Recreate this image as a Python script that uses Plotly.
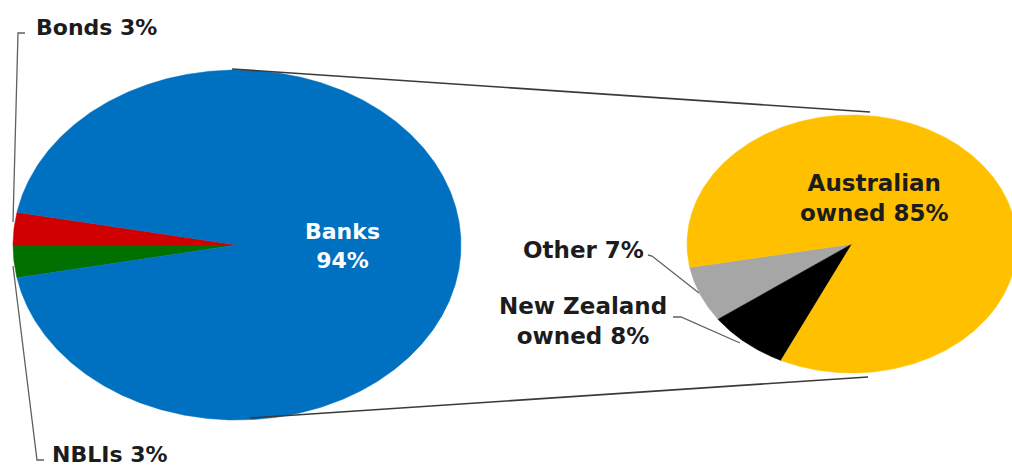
import numpy as np
import plotly.graph_objects as go

# Funding sources (left pie) and bank ownership breakdown (right pie)
funding_labels = ["NBLIs", "Bonds", "Banks"]
funding_shares = [3, 3, 94]
funding_colors = ["#007000", "#D00000", "#0070C0"]

owner_labels = ["Other", "New Zealand owned", "Australian owned"]
owner_shares = [7, 8, 85]
owner_colors = ["#A6A6A6", "#000000", "#FFC000"]

W, H = 1012, 469

# pie geometry in pixel space: centre, radii, start angle, direction
LEFT = dict(cx=237, cy=245, rx=224, ry=175,
            start=180 + funding_shares[0] * 3.6, direction=-1)
RIGHT = dict(cx=852, cy=244, rx=165, ry=129, start=190.5, direction=1)


def slice_paths(shares, geo):
    total = float(sum(shares))
    paths = []
    a = geo["start"]
    for v in shares:
        span = v / total * 360.0 * geo["direction"]
        t = np.radians(np.linspace(a, a + span, max(8, int(abs(span) * 2))))
        xs = np.concatenate([[geo["cx"]], geo["cx"] + geo["rx"] * np.cos(t), [geo["cx"]]])
        ys = np.concatenate([[geo["cy"]], geo["cy"] - geo["ry"] * np.sin(t), [geo["cy"]]])
        paths.append((xs, ys))
        a += span
    return paths


fig = go.Figure()

for shares, colors, names, geo in [
    (funding_shares, funding_colors, funding_labels, LEFT),
    (owner_shares, owner_colors, owner_labels, RIGHT),
]:
    for (xs, ys), c, n in zip(slice_paths(shares, geo), colors, names):
        fig.add_trace(go.Scatter(x=xs, y=ys, mode="lines", fill="toself",
                                 fillcolor=c, line=dict(color=c, width=0.5),
                                 name=n, hoverinfo="name", showlegend=False))

# connector lines between the two pies
conn = dict(color="#3a3a3a", width=1.6)
fig.add_trace(go.Scatter(x=[232, 870], y=[69, 112], mode="lines", line=conn,
                         hoverinfo="skip", showlegend=False))
fig.add_trace(go.Scatter(x=[250, 868], y=[418, 377], mode="lines", line=conn,
                         hoverinfo="skip", showlegend=False))

# label leader lines
lead = dict(color="#606060", width=1.3)
leaders = [
    ([25, 18, 13], [33, 33, 222]),
    ([13, 37, 44], [266, 460, 460]),
    ([648, 652, 699], [255, 256, 293]),
    ([673, 681, 740], [317, 317, 343]),
]
for lx, ly in leaders:
    fig.add_trace(go.Scatter(x=lx, y=ly, mode="lines", line=lead,
                             hoverinfo="skip", showlegend=False))

font_dark = dict(family="DejaVu Sans", size=23, color="#1c1c1c", weight="bold")
font_corner = dict(family="DejaVu Sans", size=22, color="#1c1c1c", weight="bold")
font_white = dict(family="DejaVu Sans", size=22, color="#ffffff", weight="bold")

annotations = [
    dict(x=342, y=246, text=f"{funding_labels[2]}<br>{funding_shares[2]}%", font=font_white),
    dict(x=874, y=198, text=f"Australian<br>owned {owner_shares[2]}%", font=font_dark),
    dict(x=96, y=27, text=f"{funding_labels[1]} {funding_shares[1]}%", font=font_corner),
    dict(x=110, y=454, text=f"{funding_labels[0]} {funding_shares[0]}%", font=font_corner),
    dict(x=583, y=250, text=f"{owner_labels[0]} {owner_shares[0]}%", font=font_dark),
    dict(x=583, y=321, text=f"New Zealand<br>owned {owner_shares[1]}%", font=font_dark),
]
for a in annotations:
    a.update(xref="x", yref="y", showarrow=False, xanchor="center", yanchor="middle")

fig.update_layout(
    width=W, height=H,
    margin=dict(l=0, r=0, t=0, b=0),
    paper_bgcolor="white", plot_bgcolor="white",
    xaxis=dict(range=[0, W], visible=False, fixedrange=True),
    yaxis=dict(range=[H, 0], visible=False, fixedrange=True),
    annotations=annotations,
)

fig.write_html("out.html")
